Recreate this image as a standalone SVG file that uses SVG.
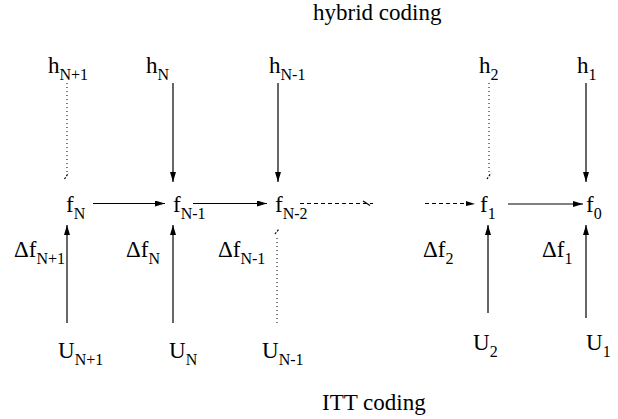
<svg xmlns="http://www.w3.org/2000/svg" width="618" height="419" viewBox="0 0 618 419" font-family="'Liberation Serif','Times New Roman','DejaVu Serif',serif">
<style>
text{font-family:"Liberation Serif","Times New Roman","DejaVu Serif",serif;font-size:23px;fill:#000}
tspan.s{font-size:16px}
.a{stroke:#000;stroke-width:1.2;fill:none}
.dot{stroke:#000;stroke-width:1;stroke-dasharray:1 3;fill:none}
.dash{stroke:#000;stroke-width:1;stroke-dasharray:4 3;fill:none}
</style>
<defs>
<marker id="ah" viewBox="0 0 10 6" refX="10" refY="3" markerWidth="10" markerHeight="6" markerUnits="userSpaceOnUse" orient="auto">
<path d="M0,0 L10,3 L0,6 Z" fill="#000"/>
</marker>
</defs>
<rect width="618" height="419" fill="#fff"/>
<text x="313" y="20">hybrid coding</text>
<text x="322" y="410">ITT coding</text>
<g id="hN1"><text x="48" y="73">h<tspan class="s" dy="7">N+1</tspan></text></g>
<g id="hN"><text x="146" y="73">h<tspan class="s" dy="7">N</tspan></text></g>
<g id="hNm1"><text x="269" y="73">h<tspan class="s" dy="7">N-1</tspan></text></g>
<g id="h2"><text x="479" y="73">h<tspan class="s" dy="7">2</tspan></text></g>
<g id="h1"><text x="577" y="73">h<tspan class="s" dy="7">1</tspan></text></g>
<g id="fN"><text x="66" y="212">f<tspan class="s" dy="7">N</tspan></text></g>
<g id="fNm1"><text x="173" y="212">f<tspan class="s" dy="7">N-1</tspan></text></g>
<g id="fNm2"><text x="275" y="212">f<tspan class="s" dy="7">N-2</tspan></text></g>
<g id="f1"><text x="480" y="212">f<tspan class="s" dy="7">1</tspan></text></g>
<g id="f0"><text x="586" y="212">f<tspan class="s" dy="7">0</tspan></text></g>
<g id="dfN1"><text x="14" y="257">Δf<tspan class="s" dy="7">N+1</tspan></text></g>
<g id="dfN"><text x="126" y="257">Δf<tspan class="s" dy="7">N</tspan></text></g>
<g id="dfNm1"><text x="218" y="257">Δf<tspan class="s" dy="7">N-1</tspan></text></g>
<g id="df2"><text x="423" y="257">Δf<tspan class="s" dy="7">2</tspan></text></g>
<g id="df1"><text x="542" y="257">Δf<tspan class="s" dy="7">1</tspan></text></g>
<g id="UN1"><text x="58" y="358">U<tspan class="s" dy="7">N+1</tspan></text></g>
<g id="UN"><text x="169" y="358">U<tspan class="s" dy="7">N</tspan></text></g>
<g id="UNm1"><text x="262" y="358">U<tspan class="s" dy="7">N-1</tspan></text></g>
<g id="U2"><text x="473" y="350">U<tspan class="s" dy="7">2</tspan></text></g>
<g id="U1"><text x="586" y="350">U<tspan class="s" dy="7">1</tspan></text></g>
<g id="connectors">
<line class="dot" x1="67" y1="83" x2="67" y2="172"/>
<line class="a" x1="64.5" y1="179" x2="68.5" y2="173" stroke-dasharray="2 1.5"/>
<line class="a" x1="173" y1="83" x2="173" y2="182" marker-end="url(#ah)"/>
<line class="a" x1="278" y1="83" x2="278" y2="182" marker-end="url(#ah)"/>
<line class="dot" x1="489" y1="83" x2="489" y2="172"/>
<line class="a" x1="487" y1="179" x2="491" y2="173" stroke-dasharray="2 1.5"/>
<line class="a" x1="586" y1="83" x2="586" y2="182" marker-end="url(#ah)"/>
<line class="a" x1="93" y1="203.5" x2="165" y2="203.5" marker-end="url(#ah)"/>
<line class="a" x1="193" y1="203.5" x2="267" y2="203.5" marker-end="url(#ah)"/>
<line class="dash" x1="300" y1="203.5" x2="373" y2="203.5"/>
<line class="a" x1="363" y1="201" x2="370" y2="205.5" stroke-width="1.5"/>
<line class="dash" x1="425" y1="203.5" x2="470" y2="203.5"/>
<path d="M466,201 L475,204 L466,206 Z" fill="#000" stroke="none"/>
<line class="a" x1="508" y1="204" x2="583" y2="204" marker-end="url(#ah)"/>
<line class="a" x1="67" y1="323" x2="67" y2="225" marker-end="url(#ah)"/>
<line class="a" x1="173" y1="323" x2="173" y2="225" marker-end="url(#ah)" stroke="#555"/>
<line class="dot" x1="277" y1="323" x2="277" y2="236"/>
<line class="a" x1="275" y1="234" x2="279" y2="229" stroke-dasharray="2 1.5"/>
<line class="a" x1="488" y1="313" x2="488" y2="225" marker-end="url(#ah)"/>
<line class="a" x1="586" y1="318" x2="586" y2="225" marker-end="url(#ah)"/>
</g>
</svg>
